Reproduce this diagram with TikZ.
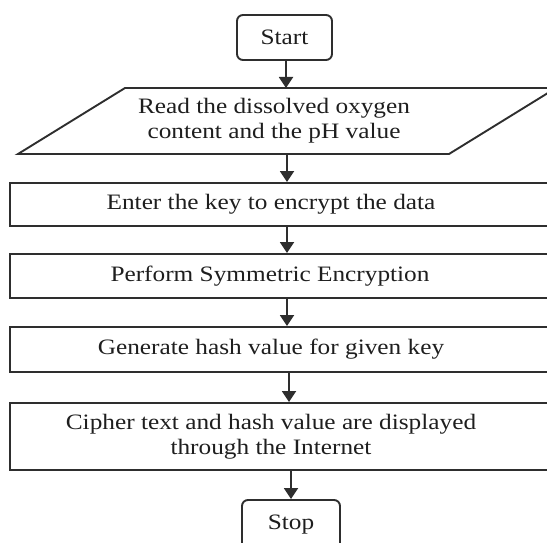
\documentclass[tikz,border=0pt]{standalone}
\usepackage{fontspec}
\setmainfont{Liberation Serif}[FakeStretch=1.15]
\usetikzlibrary{arrows.meta}
\definecolor{ink}{HTML}{2E2E2E}
\definecolor{txt}{HTML}{1E1E1E}
\tikzset{
  frame/.style={draw=ink, line width=1.9pt, inner sep=0pt},
  endbox/.style={frame, rounded corners=6pt},
  label text/.style={text=txt, font=\fontsize{22}{25}\selectfont, align=center, inner sep=0pt},
  flow/.style={draw=ink, line width=1.9pt, -{Triangle[length=11pt,width=14pt]}},
}
\begin{document}
\begin{tikzpicture}[x=1pt,y=-1pt]
  \useasboundingbox (0,0) rectangle (547,543);

  % terminals
  \node[endbox, minimum width=95pt, minimum height=45pt] (start) at (284.5,37.5) {};
  \node[label text] (tstart) at (284.5,37.5) {Start};

  % input parallelogram
  \coordinate (pTL) at (125,88);
  \coordinate (pTR) at (556,88);
  \coordinate (pBR) at (449,154);
  \coordinate (pBL) at (18,154);
  \draw[draw=ink, line width=1.9pt, line join=miter] (pTL) -- (pTR) -- (pBR) -- (pBL) -- cycle;
  \coordinate (ptop) at (286,88);
  \coordinate (pbot) at (287,154);
  \node[label text] (tread) at (274,121) {Read the dissolved oxygen\\content and the pH value};

  % process boxes
  \node[frame, minimum width=539pt, minimum height=43pt] (b1) at (279.5,204.5) {};
  \node[label text] (t1) at (271,204.5) {Enter the key to encrypt the data};

  \node[frame, minimum width=539pt, minimum height=44pt] (b2) at (279.5,276) {};
  \node[label text] (t2) at (270,276) {Perform Symmetric Encryption};

  \node[frame, minimum width=539pt, minimum height=45pt] (b3) at (279.5,349.5) {};
  \node[label text] (t3) at (271,349.5) {Generate hash value for given key};

  \node[frame, minimum width=539pt, minimum height=67pt] (b4) at (279.5,436.5) {};
  \node[label text] (t4) at (271,437) {Cipher text and hash value are displayed\\through the Internet};

  \node[endbox, minimum width=98pt, minimum height=50pt] (stop) at (291,525) {};
  \node[label text] (tstop) at (291,525) {Stop};

  % connectors
  \coordinate (ax) at (287,0);
  \draw[flow] (start.south -| ptop) -- (ptop);
  \draw[flow] (pbot) -- (b1.north -| ax);
  \draw[flow] (b1.south -| ax) -- (b2.north -| ax);
  \draw[flow] (b2.south -| ax) -- (b3.north -| ax);
  \draw[flow] (b3.south -| stop) ++(-2,0) coordinate (c3) (c3) -- (c3 |- b4.north);
  \draw[flow] (b4.south -| stop) -- (stop.north);
\end{tikzpicture}
\end{document}
